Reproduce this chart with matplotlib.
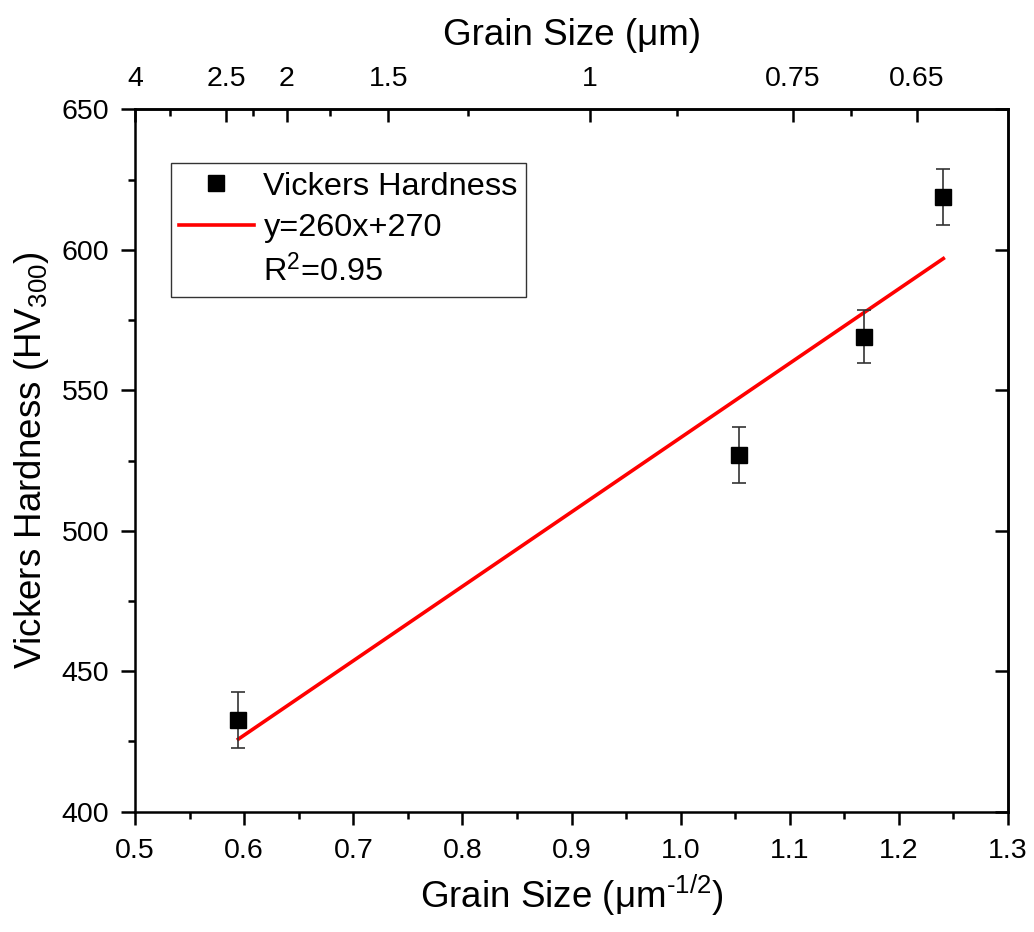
import numpy as np
import matplotlib
matplotlib.use("Agg")
import matplotlib.pyplot as plt
from matplotlib.lines import Line2D

plt.rcParams['font.family'] = ['Liberation Sans', 'DejaVu Sans']
plt.rcParams['mathtext.fontset'] = 'custom'
plt.rcParams['mathtext.rm'] = 'Liberation Sans'
plt.rcParams['mathtext.it'] = 'Liberation Sans:italic'
plt.rcParams['mathtext.bf'] = 'Liberation Sans:bold'

# Data
grain_inv_sqrt = [0.5947, 1.0532, 1.168, 1.2407]   # um^-1/2
hardness = [432.7, 526.9, 569.1, 618.9]             # HV300
hardness_err = [10.0, 10.0, 9.5, 10.0]

# Top axis (grain size in um) tick positions in bottom-axis units
top_major_pos = [0.5, 0.5834, 0.639, 0.732, 0.917, 1.103, 1.2166]
top_major_labels = ['4', '2.5', '2', '1.5', '1', '0.75', '0.65']
top_minor_pos = [0.532, 0.608, 0.679, 0.805, 0.997, 1.156]

x_ticks = [0.5, 0.6, 0.7, 0.8, 0.9, 1.0, 1.1, 1.2, 1.3]
y_ticks = [400, 450, 500, 550, 600, 650]

TICK_FS = 20.5
LABEL_FS = 26.5
LEG_FS = 23.4
LW = 1.8

fig = plt.figure(figsize=(10.34, 9.32), dpi=100)
ax = fig.add_axes([0.1306, 0.1291, 0.9749 - 0.1306, 0.8827 - 0.1291])

# linear fit
coef = np.polyfit(grain_inv_sqrt, hardness, 1)
xf = np.array([min(grain_inv_sqrt), max(grain_inv_sqrt)])
ax.plot(xf, np.polyval(coef, xf), color='#ff0000', lw=2.6, zorder=2)

ax.errorbar(grain_inv_sqrt, hardness, yerr=hardness_err, fmt='s', color='black',
            ecolor='#333333', elinewidth=1.2, capsize=5.3, capthick=1.2,
            markersize=11, zorder=3)

ax.set_xlim(0.5, 1.3)
ax.set_ylim(400, 650)
ax.set_xticks(x_ticks)
ax.set_xticklabels(['%.1f' % v for v in x_ticks])
ax.set_yticks(y_ticks)
ax.set_xticks(np.arange(0.55, 1.3, 0.1), minor=True)
ax.set_yticks(np.arange(425, 650, 50), minor=True)

for s in ax.spines.values():
    s.set_linewidth(LW)

ax.tick_params(axis='x', which='major', direction='out', length=9.6, width=LW,
               labelsize=TICK_FS, pad=9, top=False)
ax.tick_params(axis='y', which='major', direction='out', length=10, width=LW,
               labelsize=TICK_FS, pad=8.4, right=False)
ax.tick_params(axis='both', which='minor', direction='out', length=5, width=LW,
               top=False, right=False)

ax.set_xlabel(r'Grain Size (μm$^{\text{-1/2}}$)', fontsize=LABEL_FS, labelpad=7)
ax.set_ylabel('Vickers Hardness (HV$_{300}$)', fontsize=LABEL_FS, labelpad=8)

# right axis: inward major ticks only, no labels
axr = ax.secondary_yaxis('right')
axr.set_yticks(y_ticks)
axr.set_yticks([], minor=True)
axr.tick_params(which='major', direction='in', length=9.6, width=LW, labelright=False)
axr.spines['right'].set_linewidth(LW)

# top axis
axt = ax.secondary_xaxis('top')
axt.set_xticks(top_major_pos)
axt.set_xticklabels(top_major_labels)
axt.set_xticks(top_minor_pos, minor=True)
axt.tick_params(which='major', direction='in', length=9, width=LW, labelsize=TICK_FS, pad=12.5)
axt.tick_params(which='minor', direction='in', length=5, width=LW)
axt.spines['top'].set_linewidth(LW)
axt.set_xlabel('Grain Size (μm)', fontsize=LABEL_FS, labelpad=15)

handles = [Line2D([], [], ls='none', marker='s', color='black', markersize=11),
           Line2D([], [], color='#ff0000', lw=2.6),
           Line2D([], [], ls='none')]
labels = ['Vickers Hardness', 'y=260x+270', 'R$^{2}$=0.95']
leg = ax.legend(handles, labels, loc='upper left', bbox_to_anchor=(0.041, 0.923),
                fontsize=LEG_FS, frameon=True, fancybox=False, edgecolor='black',
                handlelength=2.3, handletextpad=0.3, borderpad=0.25,
                labelspacing=0.35, borderaxespad=0)
leg.get_frame().set_linewidth(1.0)

fig.savefig('out.png', dpi=100)
